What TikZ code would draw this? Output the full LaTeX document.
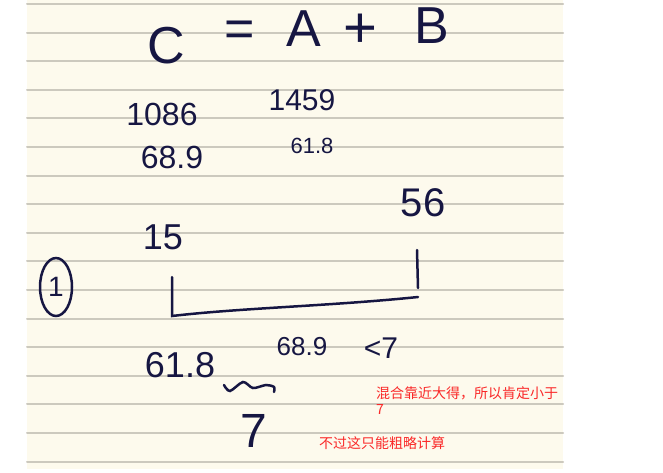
\documentclass[tikz,border=0pt]{standalone}
\usepackage{fontspec}
\setmainfont{Liberation Sans}
\newfontfamily\cjk{Noto Sans CJK SC}
\usetikzlibrary{shapes.geometric}
\definecolor{paper}{RGB}{253,250,237}
\definecolor{rule}{RGB}{204,201,190}
\definecolor{ink}{RGB}{22,22,66}
\definecolor{memo}{RGB}{250,40,40}

\begin{document}
\begin{tikzpicture}[x=1pt, y=-1pt, line cap=round,
    hand/.style={text=ink, inner sep=0pt, font=\fontsize{#1}{#1}\selectfont},
    memo/.style={text=memo, inner sep=0pt, font=\cjk\fontsize{14}{16}\selectfont, align=left}]
    \def\ruleGap{28.6}
    \def\inkWidth{2.5pt}
    \useasboundingbox (0,0) rectangle (663,472);

    % Ruled sheet
    \fill[paper] (27,0) rectangle (563,469);
    \foreach \k in {0,...,16}
        \draw[rule, line width=2pt] (27,{4+\k*\ruleGap}) -- (563,{4+\k*\ruleGap});

    % Title line C = A + B
    \node[hand=52] (lhsC) at (166,46) {C};
    \node[hand=52] (eqSign) at (240,34) {=};
    \node[hand=52] (termA) at (304,29) {A};
    \node[hand=58] (plusSign) at (360,31) {+};
    \node[hand=52] (termB) at (432,26) {B};

    % Counts and rates
    \node[hand=32] (countC) at (162,114) {1086};
    \node[hand=30] (countA) at (302,100) {1459};
    \node[hand=32] (rateC) at (172,157) {68.9};
    \node[hand=22] (rateA) at (312,146) {61.8};

    % Range ends
    \node[hand=36] (lowEnd) at (163,237) {15};
    \node[hand=40] (highEnd) at (423,203) {56};
    \node[draw=ink, ellipse, line width=\inkWidth, minimum width=32pt, minimum height=58pt,
        inner sep=0pt, text=ink, font=\fontsize{28}{28}\selectfont] (stepOne) at (56,287) {1};

    % Bracket under the range
    \draw[ink, line width=\inkWidth] (172,277) -- (172,316)
        .. controls (240,308) and (330,306) .. (418,297);
    \draw[ink, line width=\inkWidth] (417,250) -- (418,288);

    % Mixing estimate
    \node[hand=36] (mixLow) at (180,365) {61.8};
    \node[hand=26] (mixHigh) at (302,347) {68.9};
    \node[hand=30] (bound) at (381,348) {<7};
    \draw[ink, line width=\inkWidth] plot[smooth] coordinates
        {(224,385) (230,391) (243,382) (253,388) (266,385) (274,387) (274,392)};
    \node[hand=48] (diff) at (254,431) {7};

    % Red remarks
    \node[memo, anchor=north west] (noteOne) at (376,386) {混合靠近大得，所以肯定小于\\7};
    \node[memo, anchor=west] (noteTwo) at (319,443) {不过这只能粗略计算};
\end{tikzpicture}
\end{document}
